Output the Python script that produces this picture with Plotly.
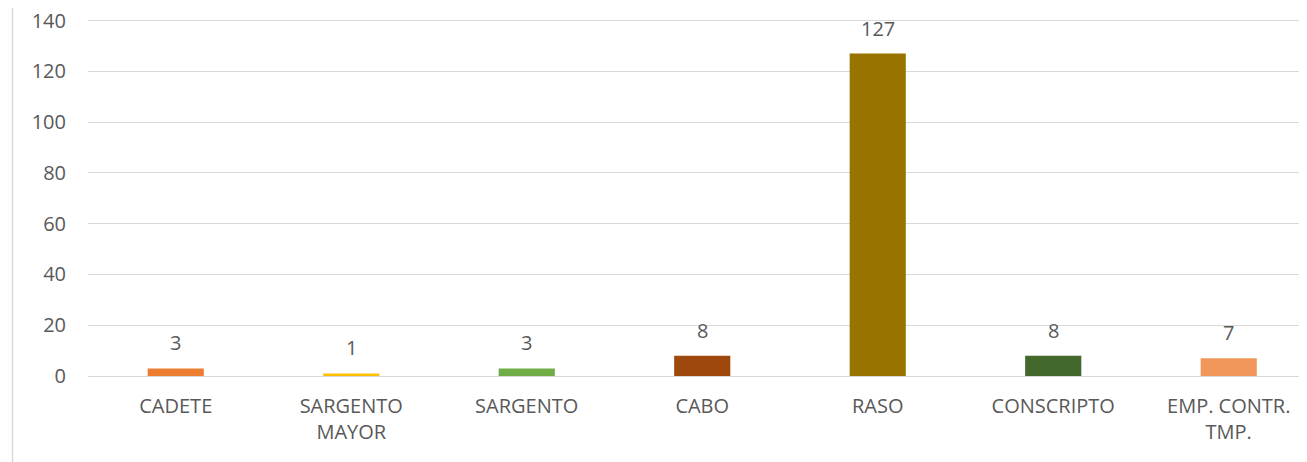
import plotly.graph_objects as go

categories = ["CADETE", "SARGENTO<br>MAYOR", "SARGENTO", "CABO", "RASO", "CONSCRIPTO", "EMP. CONTR.<br>TMP."]
values = [3, 1, 3, 8, 127, 8, 7]
colors = ["#ED7D31", "#FFC000", "#70AD47", "#9E480E", "#997300", "#43682B", "#F1975A"]
y_ticks = [0, 20, 40, 60, 80, 100, 120, 140]

FONT = "Open Sans, Liberation Sans, sans-serif"
TXT = "#595959"
FS = 20

fig = go.Figure()
fig.add_trace(go.Bar(
    x=list(range(len(categories))), y=values,
    marker=dict(color=colors, line=dict(width=0)),
    width=0.32, showlegend=False, hoverinfo="skip",
))

for i, v in enumerate(values):
    fig.add_annotation(x=i, y=v, text=str(v), showarrow=False, yanchor="bottom",
                       yshift=10, font=dict(family=FONT, size=FS, color=TXT))

# page has an 8px body margin
W, H = 1299, 454
ml, mr, mt, mb = 80, 0, 10, 86
fig.update_layout(
    width=W, height=H,
    margin=dict(l=ml, r=mr, t=mt, b=mb, pad=0),
    plot_bgcolor="white", paper_bgcolor="white",
    font=dict(family=FONT, size=FS, color=TXT),
    xaxis=dict(
        tickmode="array", tickvals=list(range(len(categories))), ticktext=categories,
        range=[-0.5, 6.446], showgrid=False, zeroline=False, showline=False,
        ticks="", ticklabelstandoff=16, tickfont=dict(family=FONT, size=FS, color=TXT),
    ),
    yaxis=dict(
        tickmode="array", tickvals=y_ticks, range=[0, 141],
        showgrid=True, gridcolor="#D9D9D9", gridwidth=1,
        zeroline=True, zerolinecolor="#D9D9D9", zerolinewidth=1,
        showline=False, ticks="", ticklabelstandoff=21, ticklabeloverflow="allow",
        tickfont=dict(family=FONT, size=FS, color=TXT),
    ),
)

plot_w = W - ml - mr
plot_h = H - mt - mb
fig.add_shape(type="line", xref="paper", yref="paper",
              x0=(4.5 - ml) / plot_w, x1=(4.5 - ml) / plot_w,
              y0=-mb / plot_h, y1=1 + mt / plot_h,
              line=dict(color="#D9D9D9", width=1.5))

fig.write_html("out.html")
